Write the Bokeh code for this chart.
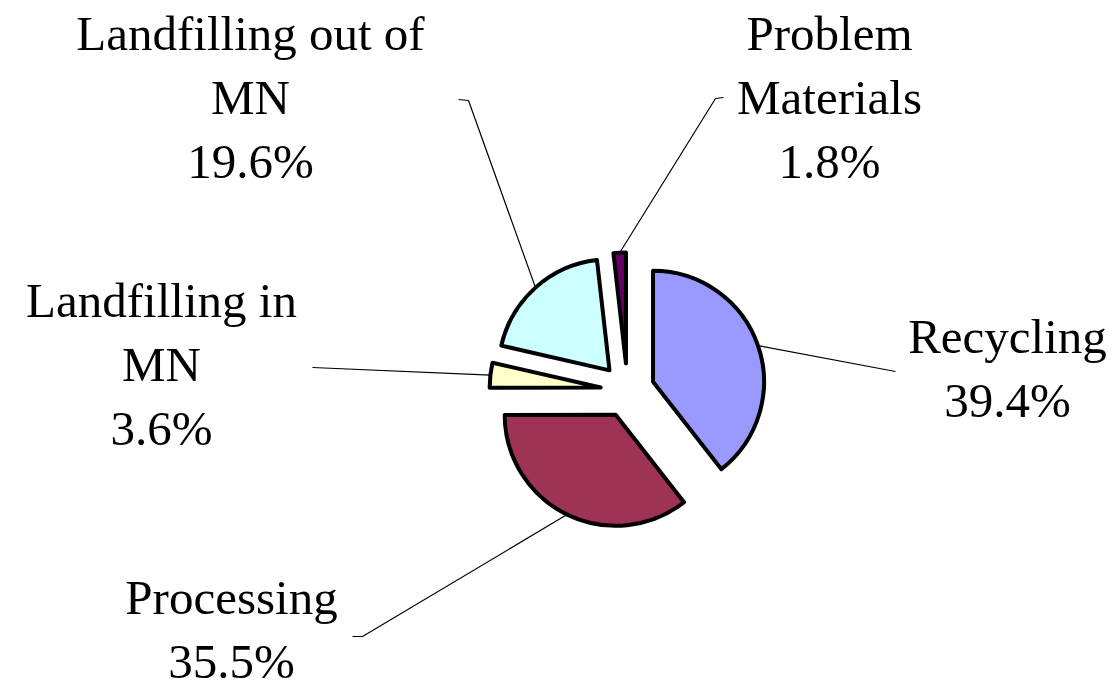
import math
from bokeh.plotting import figure
from bokeh.models import Range1d
from bokeh.core.properties import value
from bokeh.embed import file_html
from bokeh.resources import INLINE

# Waste management shares (%)
categories = ["Recycling", "Processing", "Landfilling in\nMN", "Landfilling out of\nMN", "Problem\nMaterials"]
shares = [39.4, 35.5, 3.6, 19.6, 1.8]
colors = ["#9999FF", "#9E3355", "#FFFFCC", "#CCFFFF", "#660066"]

W, H = 1118, 691
CX, CY = 627, H - 390      # pie centre (y up)
R = 111                    # slice radius
EXPLODE = 27               # radial offset of each slice

# label anchor (centre x, first text line position from top) and leader-line label end
label_pos = [(1007, 336), (231, 597), (161, 300), (250, 33), (829, 33)]
leader_ends = [
    [(895, 371)],
    [(362, 636), (352, 636)],
    [(312, 367)],
    [(468, 100), (458, 99)],
    [(715, 98), (723, 97)],
]
LINE_STEP = 64
FONT = "Liberation Serif"
FONT_SIZE = "49px"

p = figure(width=W, height=H, x_range=Range1d(0, W), y_range=Range1d(0, H),
           output_backend="svg", toolbar_location=None, min_border=0)
p.axis.visible = False
p.grid.visible = False
p.outline_line_color = None
p.background_fill_color = "white"
p.border_fill_color = "white"

total = sum(shares)
cum = 0.0
for name, v, col, (lx, ly), ends in zip(categories, shares, colors, label_pos, leader_ends):
    a0 = cum / total
    cum += v
    a1 = cum / total
    start = math.pi / 2 - 2 * math.pi * a0
    end = math.pi / 2 - 2 * math.pi * a1
    mid = (start + end) / 2
    cx = CX + EXPLODE * math.cos(mid)
    cy = CY + EXPLODE * math.sin(mid)
    p.wedge(x=[cx], y=[cy], radius=R, start_angle=[start], end_angle=[end],
            direction="clock", fill_color=col, line_color="black", line_width=4,
            line_join="round")

    # leader line from the arc midpoint to the label
    ax = cx + R * math.cos(mid)
    ay = cy + R * math.sin(mid)
    xs = [ax] + [e[0] for e in ends]
    ys = [ay] + [H - e[1] for e in ends]
    p.line(xs, ys, line_color="black", line_width=1.2)

    lines = name.split("\n") + [f"{v:.1f}%"]
    for i, t in enumerate(lines):
        p.text(x=[lx], y=[H - (ly + i * LINE_STEP)], text=[t],
               text_font=value(FONT), text_font_size=FONT_SIZE,
               text_align="center", text_baseline="alphabetic", text_color="black")

open("out.html", "w").write(file_html(p, INLINE))
